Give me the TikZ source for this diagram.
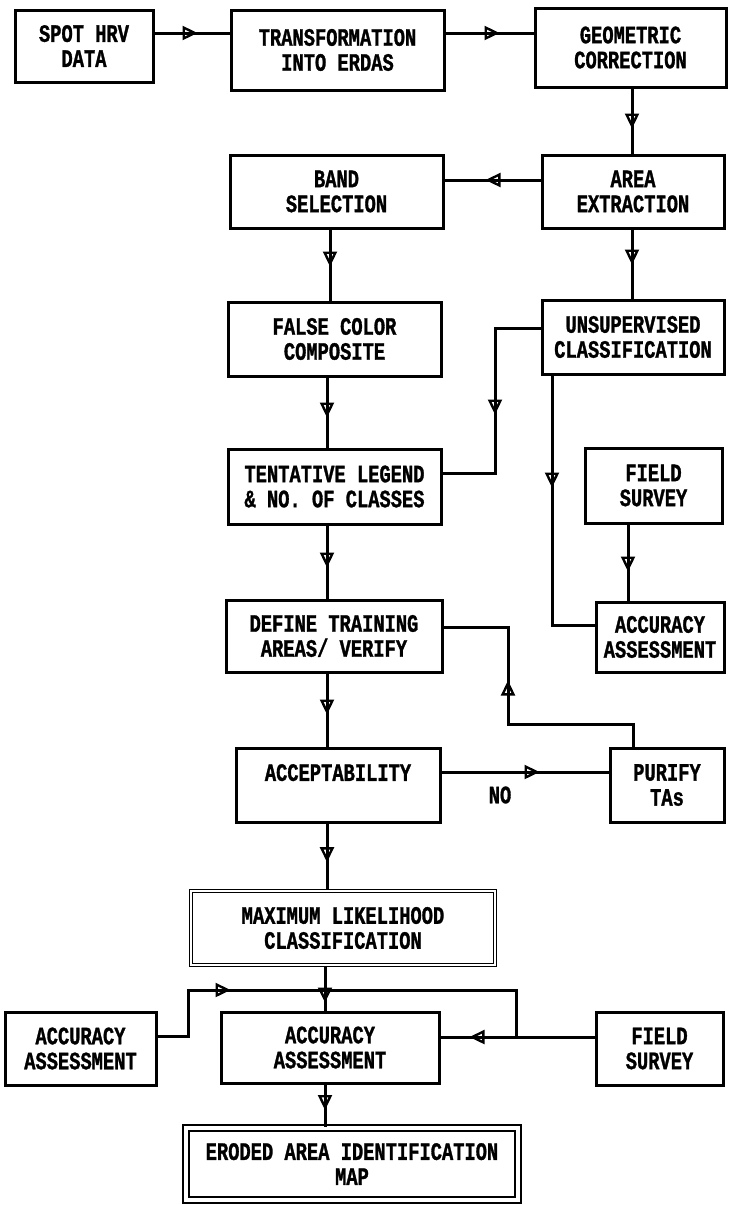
\documentclass[tikz,border=0pt]{standalone}
\usepackage{fontspec}
\setmonofont{Liberation Mono}[FakeStretch=0.75, BoldFeatures={FakeBold=1.2}]
\usetikzlibrary{arrows.meta,decorations.markings}
\newcommand\flowfont{\fontsize{25}{25}\selectfont\ttfamily\bfseries}
\tikzset{
  box/.style 2 args={draw, line width=3pt, align=center, inner sep=0pt,
    minimum width=#1, minimum height=#2, font=\flowfont},
  line/.style={draw, line width=3pt},
  midarr/.style={postaction={decorate, decoration={markings,
    mark=at position #1 with {\arrow[line width=2.4pt]{Triangle[open,length=15pt,width=14pt]}}}}},
}
\begin{document}
\begin{tikzpicture}[x=1pt,y=-1pt]
\useasboundingbox (0,0) rectangle (729,1205);
% top row
\node[box={138pt}{72pt}] (spot) at (84,46) {SPOT HRV\\DATA};
\node[box={213pt}{80pt}] (trans) at (337.5,50) {TRANSFORMATION\\INTO ERDAS};
\node[box={191pt}{79pt}] (geo) at (630.5,47.5) {GEOMETRIC\\CORRECTION};
\node[box={213pt}{73pt}] (band) at (336.5,191.5) {BAND\\SELECTION};
\node[box={182pt}{73pt}] (area) at (633,191.5) {AREA\\EXTRACTION};
\node[box={213pt}{74pt}] (falsecc) at (334.5,339) {FALSE COLOR\\COMPOSITE};
\node[box={182pt}{74pt}] (unsup) at (633,337) {UNSUPERVISED\\CLASSIFICATION};
\node[box={213pt}{75pt}] (tent) at (334.5,486.5) {TENTATIVE LEGEND\\\& NO. OF CLASSES};
\node[box={137pt}{75pt}] (field) at (653.5,485.5) {FIELD\\SURVEY};
\node[box={216pt}{72pt}] (define) at (334,636) {DEFINE TRAINING\\AREAS/ VERIFY};
\node[box={128pt}{70pt}] (accright) at (660,637) {ACCURACY\\ASSESSMENT};
\node[box={204pt}{74pt}] (accept) at (338,785) {ACCEPTABILITY\\\phantom{X}};
\node[box={114pt}{74pt}] (purify) at (667,785) {PURIFY\\TAs};
\node[font=\flowfont] (no) at (500,795) {NO};
% bottom part
\node[box={304pt}{74pt}, double, line width=1.6pt, double distance=1.5pt] (maxlik) at (343,928) {MAXIMUM LIKELIHOOD\\CLASSIFICATION};
\node[box={151pt}{73pt}] (accleft) at (80.5,1048.5) {ACCURACY\\ASSESSMENT};
\node[box={218pt}{71pt}] (accmid) at (330,1047.5) {ACCURACY\\ASSESSMENT};
\node[box={127pt}{73pt}] (fieldlow) at (659.5,1048.5) {FIELD\\SURVEY};
\node[box={332pt}{72pt}, double, line width=2pt, double distance=3.5pt] (eroded) at (352,1164) {ERODED AREA IDENTIFICATION\\MAP};
\coordinate (join) at (516,1037);
% connectors
\path[line, midarr=-32pt] (spot.east |- 0,33) -- (trans.west |- 0,33);
\path[line, midarr=-34pt] (trans.east |- 0,33) -- (geo.west |- 0,33);
\path[line, midarr=-25pt] (geo.south -| 632,0) -- (area.north -| 632,0);
\path[line, midarr=-41pt] (area.west |- 0,180) -- (band.east |- 0,180);
\path[line, midarr=-34pt] (band.south -| 330,0) -- (falsecc.north -| 330,0);
\path[line, midarr=-34pt] (area.south -| 632,0) -- (unsup.north -| 632,0);
\path[line, midarr=-111pt] (unsup.west |- 0,328) -| (495,473) -- (tent.east |- 0,473);
\path[line, midarr=-30pt] (falsecc.south -| 327,0) -- (tent.north -| 327,0);
\path[line, midarr=-180pt] (unsup.south -| 552,0) |- (accright.west |- 0,625);
\path[line, midarr=-29pt] (field.south -| 628,0) -- (accright.north -| 628,0);
\path[line, midarr=-31pt] (tent.south -| 327,0) -- (define.north -| 327,0);
\path[line, midarr=-118pt] (purify.north -| 633,0) |- (508,724) |- (define.east |- 0,627);
\path[line, midarr=-32pt] (define.south -| 327,0) -- (accept.north -| 327,0);
\path[line, midarr=-69pt] (accept.east |- 0,772) -- (purify.west |- 0,772);
\path[line, midarr=-28pt] (accept.south -| 327,0) -- (maxlik.north -| 327,0);
\path[line, midarr=-8pt] (maxlik.south -| 325,0) -- (accmid.north -| 325,0);
\path[line, midarr=119pt] (accleft.east |- 0,1036) -| (188,990) -| (join);
\path[line, midarr=-29pt] (fieldlow.west |- 0,1037) -- (accmid.east |- 0,1037);
\path[line, midarr=-17pt] (accmid.south -| 325,0) -- (eroded.north -| 325,0);
\end{tikzpicture}
\end{document}
